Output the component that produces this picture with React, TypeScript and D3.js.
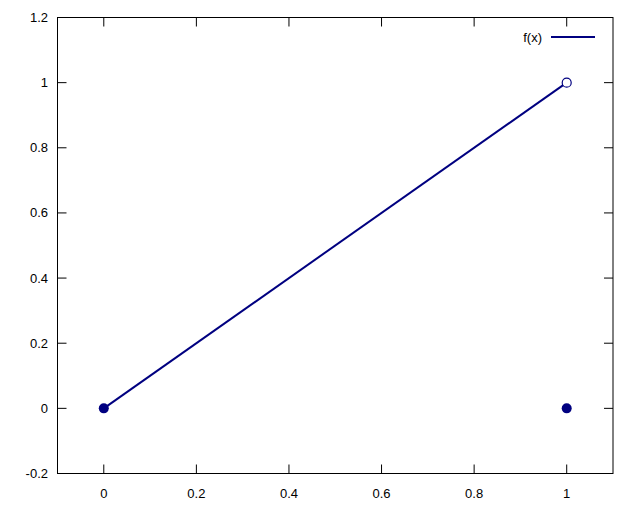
import React from "react";
import * as d3 from "d3";

const xTicks = [0, 0.2, 0.4, 0.6, 0.8, 1];
const yTicks = [-0.2, 0, 0.2, 0.4, 0.6, 0.8, 1, 1.2];
const lineX = [0, 1];
const lineY = [0, 1];
const filledPoints = [
  [0, 0],
  [1, 0],
];
const openPoints = [[1, 1]];
const seriesName = "f(x)";

const W = 640, H = 512;
const L = 57.5, R = 613, T = 17.5, B = 473.5;
const color = "#000080";

const fmt = (t: number) => String(+t.toFixed(1));

export default function App() {
  const x = d3.scaleLinear().domain([-0.1, 1.1]).range([L, R]);
  const y = d3.scaleLinear().domain([-0.2, 1.2]).range([B, T]);
  const line = d3
    .line<number>()
    .x((_, i) => x(lineX[i]))
    .y((_, i) => y(lineY[i]));
  const font = "'Liberation Sans', Arial, sans-serif";
  const tl = 9;
  return (
    <svg width={W} height={H} style={{ position: "absolute", left: 0, top: 0 }}>
      <rect width={W} height={H} fill="white" />
      <g stroke="#000" strokeWidth={1}>
        {xTicks.map((t) => (
          <g key={"x" + t}>
            <line x1={x(t)} x2={x(t)} y1={B} y2={B - tl} />
            <line x1={x(t)} x2={x(t)} y1={T} y2={T + tl} />
          </g>
        ))}
        {yTicks.map((t) => (
          <g key={"y" + t}>
            <line x1={L} x2={L + tl} y1={y(t)} y2={y(t)} />
            <line x1={R} x2={R - tl} y1={y(t)} y2={y(t)} />
          </g>
        ))}
        <rect x={L} y={T} width={R - L} height={B - T} fill="none" />
      </g>
      <g fontFamily={font} fontSize={13} fill="#000">
        {xTicks.map((t) => (
          <text key={"xl" + t} x={x(t)} y={B + 24} textAnchor="middle">
            {fmt(t)}
          </text>
        ))}
        {yTicks.map((t) => (
          <text key={"yl" + t} x={L - 9.5} y={y(t) + 4.5} textAnchor="end">
            {fmt(t)}
          </text>
        ))}
      </g>
      <path d={line(lineX) || ""} fill="none" stroke={color} strokeWidth={2} />
      {filledPoints.map((p, i) => (
        <circle key={"f" + i} cx={x(p[0])} cy={y(p[1])} r={5} fill={color} />
      ))}
      {openPoints.map((p, i) => (
        <circle key={"o" + i} cx={x(p[0])} cy={y(p[1])} r={4.5} fill="white" stroke={color} strokeWidth={1.2} />
      ))}
      <text x={542} y={41.5} textAnchor="end" fontFamily={font} fontSize={13} fill="#000">
        {seriesName}
      </text>
      <line x1={551} x2={595} y1={37} y2={37} stroke={color} strokeWidth={2} />
    </svg>
  );
}
